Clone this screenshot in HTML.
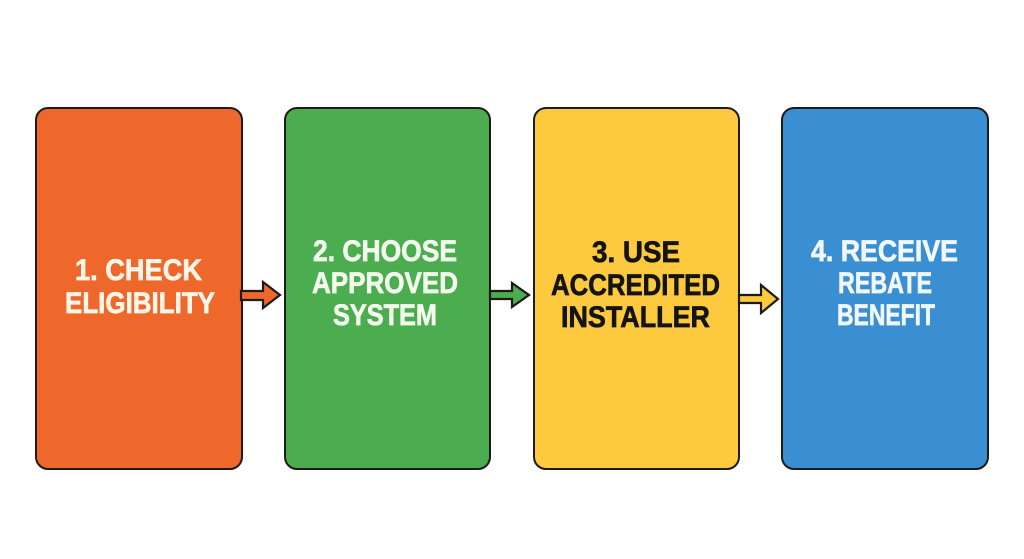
<!DOCTYPE html>
<html>
<head>
<meta charset="utf-8">
<style>
html,body{margin:0;padding:0;background:#fff;}
svg{display:block;}
text{font-family:"Liberation Sans",Arial,sans-serif;font-weight:bold;font-size:30px;stroke-width:0.7px;}
</style>
</head>
<body>
<svg width="1024" height="559" viewBox="0 0 1024 559" xmlns="http://www.w3.org/2000/svg">
  <rect x="0" y="0" width="1024" height="559" fill="#ffffff"/>
  <!-- Boxes -->
  <rect x="36" y="108" width="206" height="361" rx="12" ry="12" fill="#EE682C" stroke="#1e1a18" stroke-width="2"/>
  <rect x="285" y="108" width="205" height="361" rx="12" ry="12" fill="#4CAD50" stroke="#1e1a18" stroke-width="2"/>
  <rect x="534" y="108" width="205" height="361" rx="12" ry="12" fill="#FDC93E" stroke="#1e1a18" stroke-width="2"/>
  <rect x="782" y="108" width="206" height="361" rx="12" ry="12" fill="#3A8FD2" stroke="#1e1a18" stroke-width="2"/>

  <!-- Arrows -->
  <polygon points="241,291 263,291 263,282 280,295 263,308 263,300 241,300" fill="#EE682C" stroke="#1e1a18" stroke-width="2.2" stroke-linejoin="miter"/>
  <polygon points="490,291 512,291 512,283 529,295 512,307 512,299 490,299" fill="#4CAD50" stroke="#1e1a18" stroke-width="2.2" stroke-linejoin="miter"/>
  <polygon points="739,295 761,295 761,285 778,299 761,313 761,303 739,303" fill="#FDC93E" stroke="#1e1a18" stroke-width="2.2" stroke-linejoin="miter"/>

  <!-- Box 1 text -->
  <g fill="#FFF6E8" stroke="#FFF6E8">
    <text x="75" y="280" textLength="127" lengthAdjust="spacingAndGlyphs">1. CHECK</text>
    <text x="65" y="313" textLength="150" lengthAdjust="spacingAndGlyphs">ELIGIBILITY</text>
  </g>
  <!-- Box 2 text -->
  <g fill="#F4FAEE" stroke="#F4FAEE">
    <text x="313" y="261" textLength="144" lengthAdjust="spacingAndGlyphs">2. CHOOSE</text>
    <text x="312" y="293" textLength="146" lengthAdjust="spacingAndGlyphs">APPROVED</text>
    <text x="333" y="325" textLength="104" lengthAdjust="spacingAndGlyphs">SYSTEM</text>
  </g>
  <!-- Box 3 text -->
  <g fill="#141414" stroke="#141414">
    <text x="592" y="262" textLength="88" lengthAdjust="spacingAndGlyphs">3. USE</text>
    <text x="551" y="295" textLength="169" lengthAdjust="spacingAndGlyphs">ACCREDITED</text>
    <text x="561" y="327" textLength="149" lengthAdjust="spacingAndGlyphs">INSTALLER</text>
  </g>
  <!-- Box 4 text -->
  <g fill="#F2F7FC" stroke="#F2F7FC">
    <text x="811" y="261" textLength="147" lengthAdjust="spacingAndGlyphs">4. RECEIVE</text>
    <text x="838" y="293" textLength="94" lengthAdjust="spacingAndGlyphs">REBATE</text>
    <text x="837" y="325" textLength="98" lengthAdjust="spacingAndGlyphs">BENEFIT</text>
  </g>
</svg>
</body>
</html>
